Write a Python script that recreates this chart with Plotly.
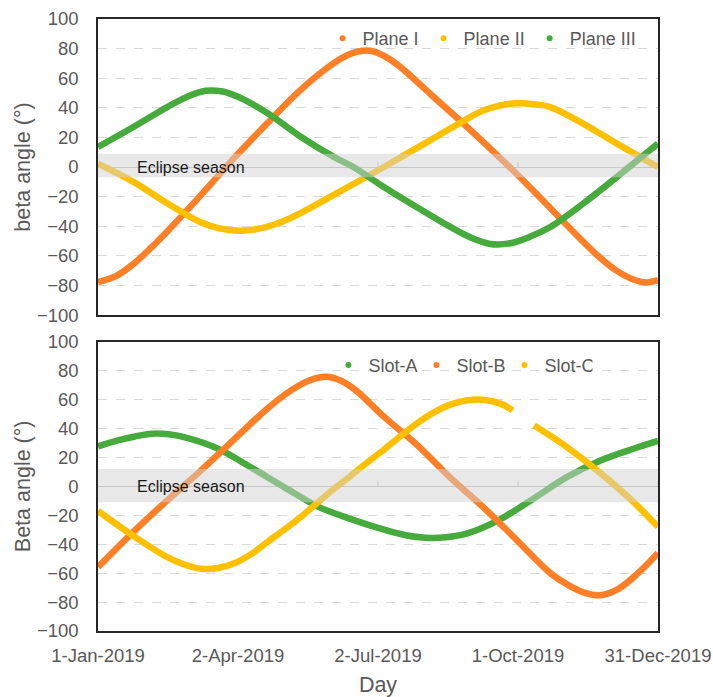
import pandas as pd
import plotly.graph_objects as go

# ---- data: day offset from 1-Jan-2019 and beta angle (deg) ----
plane1_day = [0, 12, 23, 34, 45, 66, 88, 110, 131, 153, 162, 169, 177, 186, 196, 218, 240, 261, 283, 304, 326, 337, 348, 356, 364]
plane1_val = [-77.7, -73.5, -65.5, -55, -43.5, -20, 5.5, 29.5, 51.5, 70, 75.5, 78, 78.5, 75, 68, 47.5, 27, 6.5, -16, -38.5, -61, -70, -76, -78, -76.5]

plane2_day = [0, 23, 45, 66, 79, 92, 104, 117, 131, 153, 169, 185, 200, 215, 229, 250, 261, 272, 283, 294, 315, 337, 364]
plane2_val = [2.3, -10, -24.5, -37, -41.5, -43, -41.8, -38, -31.5, -19, -9.8, -0.5, 8.5, 17.5, 26, 38, 41.5, 43, 42.5, 40.5, 29.5, 16, 0]

plane3_day = [0, 23, 45, 58, 70, 81, 92, 110, 131, 153, 166, 185, 207, 229, 242, 255, 268, 281, 294, 315, 337, 364]
plane3_val = [13.5, 27, 40.5, 47.5, 51.5, 51, 47, 36.5, 21, 7, 0, -13, -27, -40.5, -47.5, -52, -51.5, -47, -40.5, -25, -7, 15.8]

slotA_day = [0, 13, 24, 35, 46, 56, 78, 99, 121, 143, 164, 186, 200, 213, 226, 240, 262, 283, 305, 327, 348, 364]
slotA_val = [27.7, 31.8, 34.5, 36.4, 36, 34, 26, 13.4, -0.5, -14, -22.5, -30, -33.8, -35.5, -35.2, -32.5, -22.4, -8.5, 6.5, 18, 26, 31.4]

slotB_day = [0, 24, 45, 67, 89, 110, 125, 137, 148, 158, 168, 186, 208, 229, 251, 273, 294, 306, 316, 326, 338, 351, 364]
slotB_val = [-55.8, -30.4, -9.7, 11, 33, 53.7, 66, 73, 75.7, 73, 66, 48, 28, 6, -15, -38, -60, -68.5, -73.5, -75.3, -71, -60, -46]

# Slot-C has a data gap in late September
slotC_day = [0, 24, 45, 56, 67, 78, 89, 100, 110, 121, 132, 143, 153, 164, 175, 186, 197, 208, 218, 229,
             240, 250, 262, 269.5, 276, 283.5, 305, 327, 348, 364]
slotC_val = [-17, -35, -49, -54, -57, -56.5, -53, -46.5, -38.5, -30, -21, -11, -2, 7, 16.5, 25.5, 35, 44, 51, 56.5,
             59.5, 59.8, 57, 52.5, None, 42, 27, 8.8, -10.8, -28]

# eclipse season bands (beta angle limits)
eclipse_top = [-7, 9]
eclipse_bottom = [-11, 12]

tick_dates = ["2019-01-01", "2019-04-02", "2019-07-02", "2019-10-01", "2019-12-31"]
y_ticks = list(range(-100, 101, 20))

ORANGE = "#FF7F27"
YELLOW = "#FFC000"
GREEN = "#46AA3C"
GREY_TXT = "#595959"
FONT = "Liberation Sans, Arial, sans-serif"

base = pd.Timestamp("2019-01-01")


def to_dates(days):
    return [base + pd.Timedelta(days=d) for d in days]


fig = go.Figure()

top_series = [("Plane I", plane1_day, plane1_val, ORANGE),
              ("Plane II", plane2_day, plane2_val, YELLOW),
              ("Plane III", plane3_day, plane3_val, GREEN)]
bottom_series = [("Slot-A", slotA_day, slotA_val, GREEN),
                 ("Slot-B", slotB_day, slotB_val, ORANGE),
                 ("Slot-C", slotC_day, slotC_val, YELLOW)]

for name, d, v, c in top_series:
    fig.add_trace(go.Scatter(x=to_dates(d), y=v, mode="lines", name=name,
                             line=dict(color=c, width=6.5, shape="spline", smoothing=1.0),
                             xaxis="x", yaxis="y", showlegend=False, connectgaps=False))
for name, d, v, c in bottom_series:
    fig.add_trace(go.Scatter(x=to_dates(d), y=v, mode="lines", name=name,
                             line=dict(color=c, width=6.5, shape="spline", smoothing=1.0),
                             xaxis="x2", yaxis="y2", showlegend=False, connectgaps=False))

# legend entries shown as dots
for name, d, v, c in top_series:
    fig.add_trace(go.Scatter(x=[None], y=[None], mode="markers", name=name,
                             marker=dict(color=c, size=6), xaxis="x", yaxis="y",
                             legend="legend"))
for name, d, v, c in bottom_series:
    fig.add_trace(go.Scatter(x=[None], y=[None], mode="markers", name=name,
                             marker=dict(color=c, size=6), xaxis="x2", yaxis="y2",
                             legend="legend2"))

shapes = []
for (lo, hi), yref in [(eclipse_top, "y"), (eclipse_bottom, "y2")]:
    shapes.append(dict(type="rect", xref="paper", yref=yref, x0=0, x1=1, y0=lo, y1=hi,
                       fillcolor="rgba(210,210,210,0.5)", line=dict(width=0), layer="above"))
# small tick marks along the zero line
for xr, yr in [("x", "y"), ("x2", "y2")]:
    for t in tick_dates[1:]:
        shapes.append(dict(type="line", xref=xr, yref=yr, x0=t, x1=t,
                           ysizemode="pixel", yanchor=0, y0=0, y1=5,
                           line=dict(color="#bfbfbf", width=1), layer="below"))

annotations = []
for yref in ["y", "y2"]:
    annotations.append(dict(x="2019-01-25", y=0, xref="x" if yref == "y" else "x2", yref=yref,
                            text="Eclipse season", showarrow=False, xanchor="left",
                            yanchor="middle", font=dict(family=FONT, size=16, color="#1a1a1a")))

xrange = ["2019-01-01", "2019-12-31"]
common_x = dict(range=xrange, tickvals=tick_dates, tickformat="%-d-%b-%Y",
                showgrid=False, zeroline=False, showline=True, mirror=True,
                linecolor="#262626", linewidth=1.5, ticks="", ticklabeloverflow="allow",
                automargin=False,
                tickfont=dict(family=FONT, size=18.5, color=GREY_TXT))
common_y = dict(range=[-100, 100], tickvals=y_ticks, showgrid=True, griddash="dash",
                gridcolor="#d9d9d9", gridwidth=1, zeroline=True, zerolinecolor="#bcbcbc",
                zerolinewidth=1, showline=True, mirror=True, linecolor="#262626",
                linewidth=1.5, ticks="", ticklabelstandoff=14, automargin=False,
                tickfont=dict(family=FONT, size=18.5, color=GREY_TXT))

fig.update_layout(
    width=713, height=697,
    margin=dict(l=98, r=55, t=19, b=66),
    paper_bgcolor="white", plot_bgcolor="white",
    font=dict(family=FONT, color=GREY_TXT),
    xaxis=dict(common_x, anchor="y", showticklabels=False, matches="x2"),
    yaxis=dict(common_y, domain=[0.5163, 1], anchor="x",
               title=dict(text="beta angle (°)", standoff=0,
                          font=dict(family=FONT, size=21.5, color=GREY_TXT))),
    xaxis2=dict(common_x, anchor="y2", ticklabelstandoff=7,
                title=dict(text="Day", standoff=26, font=dict(family=FONT, size=21.5, color=GREY_TXT))),
    yaxis2=dict(common_y, domain=[0, 0.4727], anchor="x2",
                title=dict(text="Beta angle (°)", standoff=0,
                           font=dict(family=FONT, size=21.5, color=GREY_TXT))),
    legend=dict(orientation="h", x=0.401, y=0.968, xanchor="left", yanchor="middle",
                bgcolor="rgba(0,0,0,0)", font=dict(family=FONT, size=18, color=GREY_TXT),
                itemwidth=30),
    legend2=dict(orientation="h", x=0.4115, y=0.434, xanchor="left", yanchor="middle",
                 bgcolor="rgba(0,0,0,0)", font=dict(family=FONT, size=18, color=GREY_TXT),
                 itemwidth=30, entrywidth=43, entrywidthmode="pixels"),
    shapes=shapes,
    annotations=annotations,
)

fig.write_html("out.html")
